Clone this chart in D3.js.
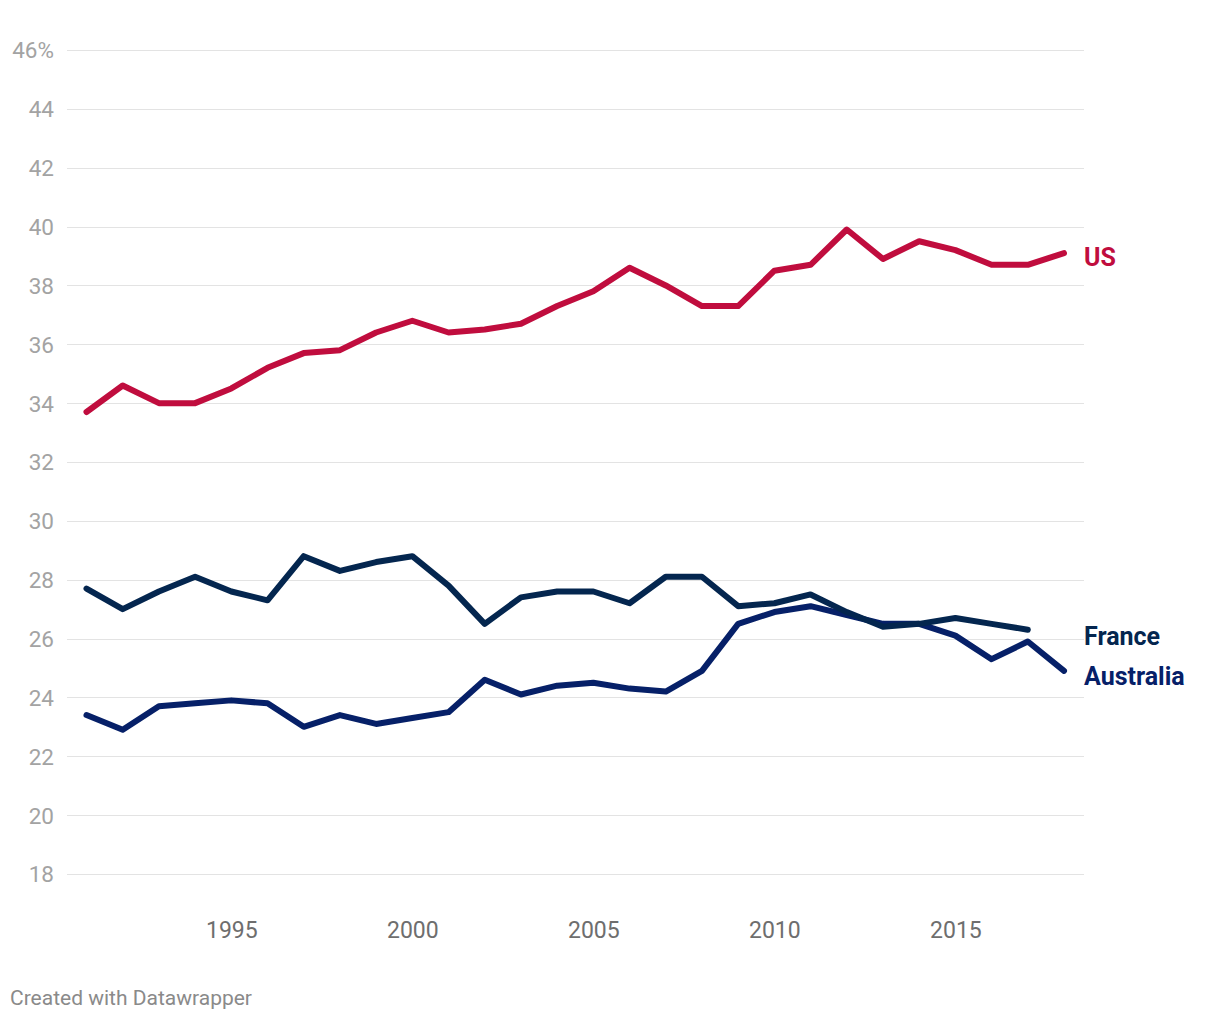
<!DOCTYPE html>
<html><head><meta charset="utf-8">
<script src="https://cdn.jsdelivr.net/npm/d3@7"></script>
<style>
body{margin:0;background:#fff;font-family:Roboto,"Noto Sans",sans-serif;}
</style></head>
<body><svg id="c" width="1220" height="1020"></svg>
<script>
const years = d3.range(1991, 2019);
const usValues = [33.7,34.6,34.0,34.0,34.5,35.2,35.7,35.8,36.4,36.8,36.4,36.5,36.7,37.3,37.8,38.6,38.0,37.3,37.3,38.5,38.7,39.9,38.9,39.5,39.2,38.7,38.7,39.1];
const franceValues = [27.7,27.0,27.6,28.1,27.6,27.3,28.8,28.3,28.6,28.8,27.8,26.5,27.4,27.6,27.6,27.2,28.1,28.1,27.1,27.2,27.5,26.9,26.4,26.5,26.7,26.5,26.3];
const australiaValues = [23.4,22.9,23.7,23.8,23.9,23.8,23.0,23.4,23.1,23.3,23.5,24.6,24.1,24.4,24.5,24.3,24.2,24.9,26.5,26.9,27.1,26.8,26.5,26.5,26.1,25.3,25.9,24.9];
const yTicks = [18,20,22,24,26,28,30,32,34,36,38,40,42,44,46];
const xTicks = [1995,2000,2005,2010,2015];
const seriesNames = ["US","France","Australia"];
const seriesColors = ["#c00d3e","#04264f","#062068"];

const svg = d3.select("#c");
const x = d3.scaleLinear().domain([1991,2018]).range([86.5,1064]);
const y = d3.scaleLinear().domain([18,46]).range([874,50]);

// grid
const gridG = svg.append("g");
gridG.selectAll("line").data(yTicks).join("line")
  .attr("x1",67).attr("x2",1084)
  .attr("y1",d=>Math.round(y(d))+0.5).attr("y2",d=>Math.round(y(d))+0.5)
  .attr("stroke","#e3e3e3").attr("stroke-width",1);
gridG.selectAll("text").data(yTicks).join("text")
  .attr("x",54).attr("y",d=>y(d)+0.5).attr("dy","0.35em")
  .attr("text-anchor","end").attr("fill","#a3a3a3")
  .style("font-size","22.5px")
  .text(d=>d===46?"46%":d);

// x axis
const xAxis = d3.axisBottom(x).tickValues(xTicks).tickFormat(d3.format("d")).tickSize(0).tickPadding(0);
const xg = svg.append("g").attr("transform","translate(0,930)").call(xAxis);
xg.select(".domain").remove();
xg.selectAll("text").attr("fill","#6e6e6e").attr("dy","0.35em")
  .style("font-size","23px").style("font-family","Roboto,sans-serif");

const datasets = [usValues, franceValues, australiaValues];
const line = d3.line().x((d,i)=>x(years[i])).y(d=>y(d));
// draw order: Australia, France, US
[2,1,0].forEach(k=>{
  svg.append("path").datum(datasets[k])
    .attr("d",line).attr("fill","none")
    .attr("stroke",seriesColors[k]).attr("stroke-width",6)
    .attr("stroke-linejoin","round").attr("stroke-linecap","round");
});

const labelY = [257.5,636,676.5];
seriesNames.forEach((n,k)=>{
  svg.append("text").attr("x",1084).attr("y",labelY[k]).attr("dy","0.35em")
    .attr("fill",seriesColors[k]).style("font-weight","700").style("font-size","25px")
    .text(n);
});

svg.append("text").attr("x",10).attr("y",998).attr("dy","0.35em")
  .attr("fill","#8a8a8a").style("font-size","21px").text("Created with Datawrapper");
</script></body></html>
